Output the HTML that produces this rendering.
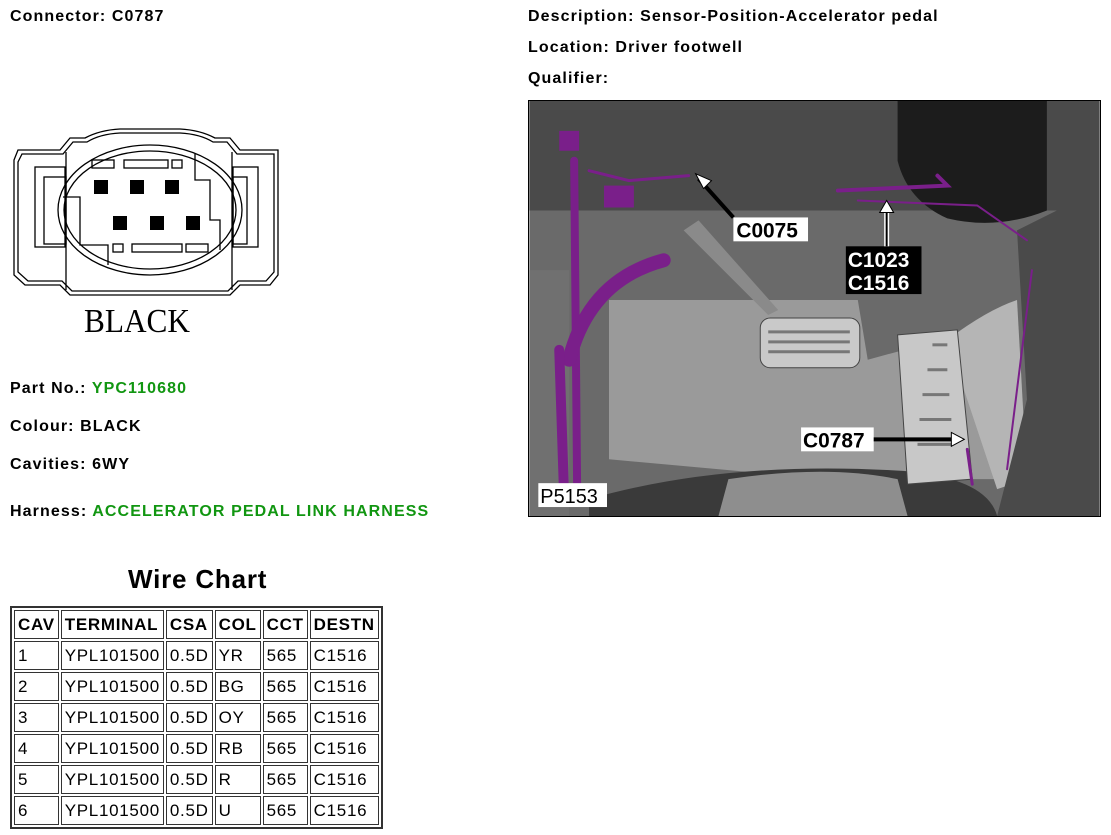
<!DOCTYPE html>
<html><head><meta charset="utf-8"><style>
body{margin:0;width:1111px;height:835px;background:#fff;position:relative;font-family:"Liberation Sans",Arial,sans-serif;overflow:hidden}
.t{position:absolute;font-weight:bold;font-size:16px;letter-spacing:1.1px;color:#000;white-space:nowrap}
.g{color:#119611}
table{position:absolute;left:10px;top:606px;border-collapse:separate;border-spacing:2px;border:2px solid #333;font-size:17px;letter-spacing:0.7px}
td{border:1px solid #333;padding:0 3px;height:27px;line-height:27px}
th{border:1px solid #333;padding:0 3px;height:27px;font-weight:bold;text-align:left}
</style></head><body>
<div class="t" style="left:10px;top:8px">Connector: C0787</div>
<div class="t" style="left:528px;top:8px">Description: Sensor-Position-Accelerator pedal</div>
<div class="t" style="left:528px;top:39px">Location: Driver footwell</div>
<div class="t" style="left:528px;top:70px">Qualifier:</div>
<div class="t" style="left:10px;top:380px">Part No.: <span class="g">YPC110680</span></div>
<div class="t" style="left:10px;top:418px">Colour: BLACK</div>
<div class="t" style="left:10px;top:456px">Cavities: 6WY</div>
<div class="t" style="left:10px;top:503px">Harness: <span class="g">ACCELERATOR PEDAL LINK HARNESS</span></div>
<div class="t" style="left:128px;top:564px;font-size:26px;letter-spacing:0.8px">Wire Chart</div>

<svg style="position:absolute;left:0;top:120px" width="300" height="220" viewBox="0 0 300 220">
<g fill="none" stroke="#000" stroke-width="1.3">
<path d="M18 30 H60 L70 18 H85 Q100 10 120 9 H180 Q200 10 215 18 H230 L240 30 H278 V155 L270 165 H240 L230 175 H70 L60 165 H25 L14 155 V40 Z"/>
<path d="M22 34 H63 L73 22 H87 Q100 14 120 13 H180 Q200 14 213 22 H227 L237 34 H274 V152 L266 161 H238 L228 171 H72 L62 161 H28 L18 152 V42 Z"/>
<rect x="35" y="47" width="30" height="80"/><rect x="44" y="57" width="22" height="67"/>
<rect x="233" y="47" width="25" height="80"/><rect x="233" y="57" width="14" height="67"/>
<line x1="66" y1="32" x2="66" y2="170"/><line x1="232" y1="32" x2="232" y2="170"/>
<ellipse cx="150" cy="90" rx="92" ry="65"/><ellipse cx="150" cy="90" rx="86" ry="59"/>
<path d="M63 77 H80 V125 H108 V145"/><path d="M195 34 V60 H210 V100 H220 V130"/>
<rect x="92" y="40" width="22" height="8"/><rect x="124" y="40" width="44" height="8"/><rect x="172" y="40" width="10" height="8"/>
<rect x="113" y="124" width="10" height="8"/><rect x="132" y="124" width="50" height="8"/><rect x="186" y="124" width="22" height="8"/>
</g>
<g fill="#000"><rect x="94" y="60" width="14" height="14"/><rect x="130" y="60" width="14" height="14"/><rect x="165" y="60" width="14" height="14"/>
<rect x="113" y="96" width="14" height="14"/><rect x="150" y="96" width="14" height="14"/><rect x="186" y="96" width="14" height="14"/></g>
<text x="84" y="212" font-family="Liberation Serif,serif" font-size="34" textLength="106" lengthAdjust="spacingAndGlyphs">BLACK</text>
</svg>

<div style="position:absolute;left:528px;top:100px;width:571px;height:415px;border:1px solid #000;overflow:hidden">
<svg width="571" height="415" viewBox="0 0 573 417">
<rect width="573" height="417" fill="#6a6a6a"/>
<path d="M0 0 H573 V110 H0Z" fill="#4a4a4a"/>
<path d="M370 0 H520 V110 Q470 130 420 118 Q380 100 370 60Z" fill="#1c1c1c"/>
<path d="M80 200 H330 L340 260 L450 230 L470 380 L300 380 L80 360Z" fill="#9a9a9a"/>
<path d="M420 240 Q460 210 490 200 L500 380 L470 390Z" fill="#b5b5b5"/>
<path d="M490 130 L530 110 L573 110 V417 H470 L500 300Z" fill="#4a4a4a"/>
<path d="M0 170 H40 V417 H0Z" fill="#707070"/>
<path d="M60 400 Q200 360 380 372 Q460 380 470 417 H60Z" fill="#3a3a3a"/>
<path d="M200 380 Q300 365 370 380 L380 417 H190Z" fill="#8e8e8e"/>
<path d="M155 130 L240 215 L250 210 L170 120Z" fill="#8a8a8a"/>
<rect x="232" y="218" width="100" height="50" rx="10" fill="#c9c9c9" stroke="#444"/>
<g stroke="#777" stroke-width="3"><line x1="240" y1="232" x2="322" y2="232"/><line x1="240" y1="242" x2="322" y2="242"/><line x1="240" y1="252" x2="322" y2="252"/></g>
<path d="M370 235 L430 230 L445 380 L380 385 Z" fill="#c8c8c8" stroke="#444"/>
<g stroke="#777" stroke-width="3"><line x1="405" y1="245" x2="420" y2="245"/><line x1="400" y1="270" x2="420" y2="270"/><line x1="395" y1="295" x2="422" y2="295"/><line x1="392" y1="320" x2="424" y2="320"/><line x1="390" y1="345" x2="426" y2="345"/></g>
<g fill="none" stroke="#7a1f8a" stroke-linecap="round">
<path d="M45 60 L48 390" stroke-width="8"/>
<path d="M40 260 Q60 180 135 160" stroke-width="14"/>
<path d="M30 250 L35 400" stroke-width="10"/>
<path d="M60 70 L100 80 L160 75" stroke-width="3"/>
<path d="M310 90 L420 85 L410 75" stroke-width="4"/>
<path d="M330 100 L450 105 L500 140" stroke-width="2"/>
<path d="M505 170 L480 370" stroke-width="2"/>
<path d="M440 350 L445 385" stroke-width="3"/>
</g>
<rect x="75" y="85" width="30" height="22" fill="#7a1f8a"/>
<rect x="30" y="30" width="20" height="20" fill="#7a1f8a"/>
<rect x="205" y="117" width="75" height="24" fill="#fff"/>
<text x="208" y="137" font-family="Liberation Sans,sans-serif" font-weight="bold" font-size="21">C0075</text>
<path d="M205 117 L170 78" stroke="#000" stroke-width="4"/><path d="M167 73 L183 80 L175 88Z" fill="#fff" stroke="#000"/>
<rect x="318" y="146" width="76" height="48" fill="#000"/>
<text x="320" y="167" font-family="Liberation Sans,sans-serif" font-weight="bold" font-size="21" fill="#fff">C1023</text>
<text x="320" y="190" font-family="Liberation Sans,sans-serif" font-weight="bold" font-size="21" fill="#fff">C1516</text>
<line x1="359" y1="146" x2="359" y2="110" stroke="#fff" stroke-width="5"/><line x1="359" y1="146" x2="359" y2="110" stroke="#000" stroke-width="2"/>
<path d="M359 100 L366 112 L352 112Z" fill="#fff" stroke="#000"/>
<rect x="273" y="328" width="73" height="24" fill="#fff"/>
<text x="275" y="348" font-family="Liberation Sans,sans-serif" font-weight="bold" font-size="21">C0787</text>
<line x1="346" y1="340" x2="425" y2="340" stroke="#000" stroke-width="4"/><path d="M437 340 L424 333 L424 347Z" fill="#fff" stroke="#000"/>
<rect x="9" y="384" width="69" height="24" fill="#fff"/>
<text x="11" y="404" font-family="Liberation Sans,sans-serif" font-size="20">P5153</text>
</svg></div>

<table>
<tr><th>CAV</th><th>TERMINAL</th><th>CSA</th><th>COL</th><th>CCT</th><th>DESTN</th></tr>
<tr><td>1</td><td>YPL101500</td><td>0.5D</td><td>YR</td><td>565</td><td>C1516</td></tr>
<tr><td>2</td><td>YPL101500</td><td>0.5D</td><td>BG</td><td>565</td><td>C1516</td></tr>
<tr><td>3</td><td>YPL101500</td><td>0.5D</td><td>OY</td><td>565</td><td>C1516</td></tr>
<tr><td>4</td><td>YPL101500</td><td>0.5D</td><td>RB</td><td>565</td><td>C1516</td></tr>
<tr><td>5</td><td>YPL101500</td><td>0.5D</td><td>R</td><td>565</td><td>C1516</td></tr>
<tr><td>6</td><td>YPL101500</td><td>0.5D</td><td>U</td><td>565</td><td>C1516</td></tr>
</table>
</body></html>
